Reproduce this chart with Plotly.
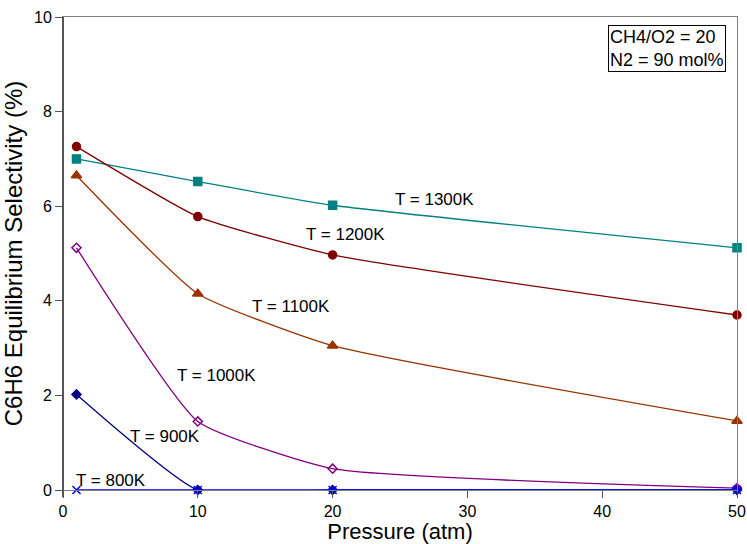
import plotly.graph_objects as go

pressure = [1, 10, 20, 50]
sel_1300 = [7.00, 6.52, 6.02, 5.12]
sel_1200 = [7.26, 5.78, 4.97, 3.70]
sel_1100 = [6.65, 4.15, 3.05, 1.46]
sel_1000 = [5.12, 1.45, 0.45, 0.04]
sel_900 = [2.02, 0.0, 0.0, 0.0]
sel_800 = [0.0, 0.0, 0.0, 0.0]

series_names = ["T = 1300K", "T = 1200K", "T = 1100K", "T = 1000K", "T = 900K", "T = 800K"]
series_vals = [sel_1300, sel_1200, sel_1100, sel_1000, sel_900, sel_800]
colors = ["#008080", "#800000", "#993300", "#800080", "#000080", "#0000FF"]
symbols = ["square", "circle", "triangle-up", "diamond-open", "diamond", "x-thin"]
msizes = [8, 8, 9, 7, 7, 8]

label_x = [27.56, 20.96, 16.95, 11.35, 7.57, 3.56]
label_y = [6.14, 5.40, 3.88, 2.43, 1.13, 0.20]

FONT = "Liberation Sans, Arial, sans-serif"

fig = go.Figure()
for name, vals, c, s, ms in zip(series_names, series_vals, colors, symbols, msizes):
    fig.add_trace(go.Scatter(
        x=pressure, y=vals, mode="lines+markers", name=name, cliponaxis=False,
        line=dict(color=c, width=1.3, shape="spline", smoothing=0.45),
        marker=dict(symbol=s, size=ms, color=c, line=dict(color=c, width=1.5)),
        showlegend=False,
    ))

for name, lx, ly in zip(series_names, label_x, label_y):
    fig.add_annotation(x=lx, y=ly, xref="x", yref="y", text=name, showarrow=False,
                       font=dict(family=FONT, size=17, color="black"))

fig.add_annotation(xref="paper", yref="paper", x=0.9837, y=0.983, xanchor="right", yanchor="top",
                   text="CH4/O2 = 20<br>N2 = 90 mol%", align="left", showarrow=False,
                   bordercolor="black", borderwidth=1, borderpad=1, bgcolor="white",
                   font=dict(family=FONT, size=18, color="black"))

fig.update_layout(
    width=747, height=544,
    margin=dict(l=63, r=10, t=17, b=54, autoexpand=False),
    paper_bgcolor="white", plot_bgcolor="white",
    font=dict(family=FONT, size=16, color="black"),
    xaxis=dict(range=[0, 50], tickvals=[0, 10, 20, 30, 40, 50], ticks="outside", ticklen=7,
               tickcolor="#555555", showgrid=False, zeroline=False, showline=True,
               linecolor="#808080", linewidth=1, mirror=True, automargin=False,
               title=dict(text="Pressure (atm)", font=dict(family=FONT, size=22), standoff=0),
               tickfont=dict(family=FONT, size=16)),
    yaxis=dict(range=[0, 10], tickvals=[0, 2, 4, 6, 8, 10], ticks="outside", ticklen=7,
               tickcolor="#555555", showgrid=False, zeroline=False, showline=True,
               linecolor="#808080", linewidth=1, mirror=True, automargin=False,
               title=dict(text="C6H6 Equilibrium Selectivity (%)", font=dict(family=FONT, size=24), standoff=6),
               tickfont=dict(family=FONT, size=16)),
)
fig.add_shape(type="line", xref="paper", yref="paper", x0=0, x1=0, y0=-0.015, y1=1,
              line=dict(color="#555555", width=2))

fig.write_html("out.html")
